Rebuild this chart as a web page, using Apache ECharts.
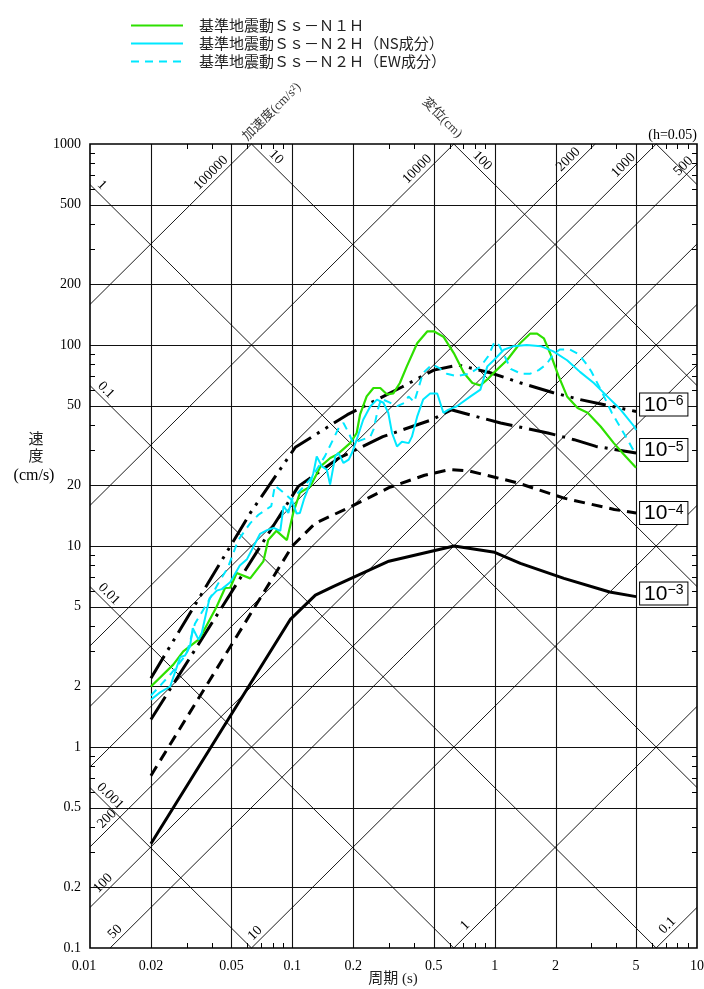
<!DOCTYPE html>
<html>
<head>
<meta charset="utf-8">
<title>基準地震動 擬似速度応答スペクトル</title>
<script src="https://cdn.jsdelivr.net/npm/echarts@6/dist/echarts.min.js"></script>
<style>
  html, body { margin: 0; padding: 0; background: #fff; }
  #chart { width: 704px; height: 989px; }
</style>
</head>
<body>
<div id="chart"></div>
<script>
// axis ticks (period s / velocity cm/s)
const xMajor = [0.01, 0.02, 0.05, 0.1, 0.2, 0.5, 1, 2, 5, 10];
const yMajor = [0.1, 0.2, 0.5, 1, 2, 5, 10, 20, 50, 100, 200, 500, 1000];
const xMinor = [0.03, 0.04, 0.06, 0.07, 0.08, 0.09, 0.3, 0.4, 0.6, 0.7, 0.8, 0.9, 3, 4, 6, 7, 8, 9];
const yMinor = [0.3, 0.4, 0.6, 0.7, 0.8, 0.9, 3, 4, 6, 7, 8, 9, 30, 40, 60, 70, 80, 90, 300, 400, 600, 700, 800, 900];

// tripartite lines: acceleration (cm/s2) and displacement (cm)
const accelLines = [0.1, 1, 10, 50, 100, 200, 500, 1000, 2000, 10000, 100000];
const dispLines = [0.001, 0.01, 0.1, 1, 10, 100, 1000];

// 基準地震動Ｓｓ－Ｎ１Ｈ
const n1hT = [0.02, 0.0258, 0.0289, 0.0344, 0.0357, 0.0423, 0.0465, 0.0493, 0.0531, 0.0619, 0.0719, 0.076, 0.0835, 0.094, 0.101, 0.109, 0.1228, 0.138, 0.154, 0.1665, 0.193, 0.208, 0.216, 0.233, 0.2517, 0.272, 0.294, 0.3156, 0.34, 0.368, 0.414, 0.464, 0.5, 0.558, 0.628, 0.705, 0.776, 0.85, 0.92, 1.0, 1.15, 1.335, 1.5, 1.62, 1.75, 1.88, 2.07, 2.28, 2.57, 2.88, 3.34, 3.88, 4.35, 5.0];
const n1hV = [2.0, 2.57, 2.99, 3.42, 3.63, 5.0, 6.18, 6.2, 7.34, 6.9, 8.38, 10.7, 11.9, 10.7, 14.6, 18.4, 19.8, 24.9, 27.4, 28.5, 32.5, 36.5, 45, 55.5, 61.1, 61.1, 56.7, 57.4, 64.7, 78.3, 102, 116.8, 117, 110, 91.2, 72.6, 64.7, 63, 67.4, 73.5, 84, 102, 114, 114, 108, 91, 70, 55.5, 48.6, 46, 39.3, 32.5, 28.5, 24.5];

// 基準地震動Ｓｓ－Ｎ２Ｈ（NS成分）
const n2hNsT = [0.02, 0.0222, 0.0249, 0.0279, 0.0295, 0.0312, 0.0322, 0.0344, 0.0357, 0.0378, 0.039, 0.0423, 0.0448, 0.0493, 0.055, 0.0597, 0.0645, 0.0693, 0.075, 0.0808, 0.0872, 0.0905, 0.0956, 0.0993, 0.105, 0.109, 0.114, 0.1228, 0.127, 0.132, 0.14, 0.148, 0.1537, 0.163, 0.169, 0.179, 0.19, 0.197, 0.208, 0.224, 0.243, 0.262, 0.282, 0.298, 0.311, 0.329, 0.348, 0.376, 0.39, 0.414, 0.443, 0.48, 0.52, 0.558, 0.589, 0.65, 0.76, 0.85, 0.92, 0.99, 1.11, 1.24, 1.44, 1.69, 1.95, 2.28, 2.64, 3.09, 3.6, 4.2, 4.9, 5.0];
const n2hNsV = [1.72, 1.87, 2.0, 2.8, 2.85, 3.16, 3.9, 3.42, 3.7, 4.8, 5.5, 6.0, 6.1, 6.6, 8.0, 8.6, 10.0, 11.5, 12.0, 12.3, 11.9, 15.8, 14.6, 17.0, 14.5, 14.6, 17.0, 20.6, 23.0, 27.9, 24.9, 24.0, 20.2, 27.9, 29.0, 25.9, 26.9, 29.0, 33.8, 42.5, 49.6, 53.5, 51.6, 46.0, 36.5, 31.3, 33.0, 32.5, 35.0, 44.0, 53.5, 57.4, 57.4, 46.0, 47.6, 49.6, 55.5, 60, 78.3, 84, 94.7, 98.7, 100, 98.7, 93, 84, 73.5, 64.7, 55.5, 47.6, 39.3, 37.8];

// 基準地震動Ｓｓ－Ｎ２Ｈ（EW成分）
const n2hEwT = [0.02, 0.025, 0.03, 0.033, 0.038, 0.043, 0.048, 0.054, 0.062, 0.068, 0.0787, 0.082, 0.09, 0.099, 0.11, 0.125, 0.145, 0.169, 0.179, 0.19, 0.2, 0.243, 0.252, 0.265, 0.275, 0.3, 0.33, 0.36, 0.375, 0.4, 0.443, 0.49, 0.53, 0.58, 0.65, 0.75, 0.85, 0.93, 1.0, 1.05, 1.12, 1.2, 1.35, 1.5, 1.65, 1.8, 1.95, 2.1, 2.35, 2.6, 2.8, 3.0, 3.4, 3.8, 4.45, 4.8, 5.0];
const n2hEwV = [1.8, 2.3, 2.9, 4.1, 5.2, 6.5, 7.8, 10.7, 13, 14.3, 15.8, 20, 18.5, 17, 19, 22, 28, 38.4, 40.9, 36.5, 32.5, 35, 38, 48, 54, 52, 49.6, 51.6, 55.5, 52, 72.6, 80, 77, 72, 70, 72, 78, 88, 104, 100, 88, 76, 72, 72, 75, 80, 90, 95, 95, 90, 82, 74, 58, 45.8, 35, 30.5, 29.5];

// 年超過確率 一様ハザードスペクトル 10^-3 .. 10^-6
const haz3T = [0.02, 0.0975, 0.13, 0.16, 0.3, 0.63, 1.0, 1.34, 2.2, 3.7, 5];
const haz3V = [0.33, 4.3, 5.7, 6.3, 8.4, 10, 9.3, 8.2, 6.9, 5.9, 5.6];
const haz4T = [0.02, 0.1, 0.13, 0.19, 0.3, 0.45, 0.6, 0.75, 1, 1.3, 2.2, 3.9, 5];
const haz4V = [0.72, 10, 13, 15.5, 19.5, 22.5, 24, 23.6, 22, 20.6, 17.3, 15.2, 14.6];
const haz5T = [0.02, 0.107, 0.17, 0.28, 0.49, 0.61, 1.07, 1.83, 2.47, 3.17, 5];
const haz5V = [1.37, 19.8, 27.4, 35, 42.5, 47.6, 40.9, 36.5, 33.8, 31.3, 29];
const haz6T = [0.02, 0.062, 0.1035, 0.187, 0.35, 0.5, 0.66, 0.95, 1.335, 1.95, 2.65, 5];
const haz6V = [2.2, 14.6, 31, 45, 62, 75, 79.5, 72.8, 64.9, 57.9, 53.5, 46.7];

// where the diagonal labels sit (period of the foot point on each line)
const accelLabelAt = { 100000: 0.0423, 10000: 0.4416, 2000: 2.466, 1000: 4.62, 500: 9.14, 200: 0.01294, 100: 0.01237, 50: 0.01418, 10: 0.0698, 1: 0.763, 0.1: 7.62 };
const dispLabelAt = { 1: 0.01074, 0.1: 0.01124, 0.01: 0.01164, 0.001: 0.01178, 10: 0.0779, 100: 0.814 };

const TWO_PI = 2 * Math.PI;
const numFont = '14px "Liberation Serif", serif';
const pairs = (ts, vs) => ts.map((t, i) => [t, vs[i]]);

function renderFrame(params, api) {
  const els = [];
  const pt = (t, v) => api.coord([t, v]);
  const seg = (p, q, w, c) => ({
    type: 'line', silent: true,
    shape: { x1: p[0], y1: p[1], x2: q[0], y2: q[1] },
    style: { stroke: c, lineWidth: w }
  });
  const txt = (x, y, s, opt) => ({
    type: 'text', silent: true, x: x, y: y, rotation: opt.rot || 0,
    style: { text: s, font: opt.font || numFont, fill: '#000', align: opt.align || 'center', verticalAlign: 'middle' }
  });
  const x0 = pt(0.01, 0.1)[0], x1 = pt(10, 0.1)[0];
  const yb = pt(0.01, 0.1)[1], yt = pt(0.01, 1000)[1];

  // grid lines
  xMajor.slice(1, -1).forEach(t => {
    const x = Math.round(pt(t, 1)[0]) + 0.5;
    els.push(seg([x, yt], [x, yb], 1.1, '#111'));
  });
  yMajor.slice(1, -1).forEach(v => {
    const y = Math.round(pt(1, v)[1]) + 0.5;
    els.push(seg([x0, y], [x1, y], 1.1, '#111'));
  });

  // diagonals
  accelLines.forEach(a => {
    const ta = Math.max(0.01, 0.1 * TWO_PI / a), tb = Math.min(10, 1000 * TWO_PI / a);
    if (ta < tb) els.push(seg(pt(ta, a * ta / TWO_PI), pt(tb, a * tb / TWO_PI), 0.9, '#000'));
  });
  dispLines.forEach(d => {
    const ta = Math.max(0.01, TWO_PI * d / 1000), tb = Math.min(10, TWO_PI * d / 0.1);
    if (ta < tb) els.push(seg(pt(ta, TWO_PI * d / ta), pt(tb, TWO_PI * d / tb), 0.9, '#000'));
  });

  // minor ticks on all four sides
  xMinor.forEach(t => {
    const x = Math.round(pt(t, 1)[0]) + 0.5;
    els.push(seg([x, yb], [x, yb - 5], 1, '#000'));
    els.push(seg([x, yt], [x, yt + 5], 1, '#000'));
  });
  yMinor.forEach(v => {
    const y = Math.round(pt(1, v)[1]) + 0.5;
    els.push(seg([x0, y], [x0 + 5, y], 1, '#000'));
    els.push(seg([x1, y], [x1 - 5, y], 1, '#000'));
  });

  // frame
  els.push({ type: 'rect', silent: true, shape: { x: x0, y: yt, width: x1 - x0, height: yb - yt },
    style: { fill: 'none', stroke: '#000', lineWidth: 1.6 } });

  // tick labels
  xMajor.forEach(t => {
    const x = pt(t, 1)[0] + (t === 0.01 ? -6 : 0);
    els.push(txt(x, yb + 18, String(t), {}));
  });
  yMajor.forEach(v => {
    els.push(txt(x0 - 9, pt(1, v)[1], String(v), { align: 'right' }));
  });

  // diagonal labels
  const k = 8 / Math.SQRT2;
  Object.keys(accelLabelAt).forEach(key => {
    const a = Number(key), t = accelLabelAt[key];
    const p = pt(t, a * t / TWO_PI);
    els.push(txt(p[0] - k, p[1] - k, String(a), { rot: Math.PI / 4 }));
  });
  Object.keys(dispLabelAt).forEach(key => {
    const d = Number(key), t = dispLabelAt[key];
    const p = pt(t, TWO_PI * d / t);
    els.push(txt(p[0] + k, p[1] - k, String(d), { rot: -Math.PI / 4 }));
  });

  return { type: 'group', children: els };
}

function hazardLabel(exp, dy) {
  return {
    show: true,
    formatter: '{a|10}{b|−' + exp + '}',
    distance: 4,
    offset: [0, dy],
    backgroundColor: '#fff',
    borderColor: '#000',
    borderWidth: 1,
    padding: [1, 4, 0, 4],
    rich: {
      a: { fontSize: 21, fontFamily: 'Liberation Sans', color: '#000', lineHeight: 21, verticalAlign: 'bottom' },
      b: { fontSize: 14, fontFamily: 'Liberation Sans', color: '#000', lineHeight: 14, verticalAlign: 'top' }
    }
  };
}

function hazardSeries(ts, vs, dash, exp, dy) {
  return {
    type: 'line', data: pairs(ts, vs), symbol: 'none', z: 3,
    lineStyle: { color: '#000', width: 3, type: dash },
    endLabel: hazardLabel(exp, dy)
  };
}

const legendNames = ['基準地震動Ｓｓ－Ｎ１Ｈ', '基準地震動Ｓｓ－Ｎ２Ｈ（NS成分）', '基準地震動Ｓｓ－Ｎ２Ｈ（EW成分）'];
const green = '#2ee000';
const cyan = '#00e8ff';

const chart = echarts.init(document.getElementById('chart'));
chart.setOption({
  animation: false,
  grid: { left: 90, right: 7, top: 144, bottom: 41, outerBoundsMode: 'none' },
  legend: {
    orient: 'vertical', left: 130, top: 18, padding: 0,
    itemWidth: 52, itemHeight: 14, itemGap: 3,
    data: legendNames,
    itemStyle: { opacity: 0 },
    textStyle: { fontSize: 15, fontFamily: '"Noto Sans CJK JP"', color: '#222', padding: [0, 0, 0, 11] }
  },
  xAxis: {
    type: 'log', logBase: 10, min: 0.01, max: 10,
    axisLine: { show: false }, axisTick: { show: false }, axisLabel: { show: false }, splitLine: { show: false }
  },
  yAxis: {
    type: 'log', logBase: 10, min: 0.1, max: 1000,
    axisLine: { show: false }, axisTick: { show: false }, axisLabel: { show: false }, splitLine: { show: false }
  },
  graphic: [
    { type: 'text', x: 393, y: 979, style: { text: '周期 (s)', font: '15px "Liberation Serif", "Noto Sans CJK JP"', fill: '#222', align: 'center', verticalAlign: 'middle' } },
    { type: 'text', x: 36, y: 438, style: { text: '速', font: '15px "Noto Sans CJK JP"', fill: '#222', align: 'center', verticalAlign: 'middle' } },
    { type: 'text', x: 36, y: 455, style: { text: '度', font: '15px "Noto Sans CJK JP"', fill: '#222', align: 'center', verticalAlign: 'middle' } },
    { type: 'text', x: 34, y: 476, style: { text: '(cm/s)', font: '16px "Liberation Serif"', fill: '#000', align: 'center', verticalAlign: 'middle' } },
    { type: 'text', x: 697, y: 135, style: { text: '(h=0.05)', font: '14px "Liberation Serif"', fill: '#000', align: 'right', verticalAlign: 'middle' } },
    { type: 'text', x: 272, y: 112, rotation: Math.PI / 4, style: { text: '加速度(cm/s²)', font: '13px "Liberation Serif", "Noto Sans CJK JP"', fill: '#333', align: 'center', verticalAlign: 'middle' } },
    { type: 'text', x: 442, y: 118, rotation: -Math.PI / 4, style: { text: '変位(cm)', font: '13px "Liberation Serif", "Noto Sans CJK JP"', fill: '#333', align: 'center', verticalAlign: 'middle' } }
  ],
  series: [
    { type: 'custom', coordinateSystem: 'cartesian2d', renderItem: renderFrame, data: [[1, 1]], z: 1, silent: true, clip: false },
    hazardSeries(haz3T, haz3V, 'solid', 3, -3),
    hazardSeries(haz4T, haz4V, [11, 7], 4, 0),
    hazardSeries(haz5T, haz5V, [27, 7, 3, 7], 5, -3),
    hazardSeries(haz6T, haz6V, [26, 7, 3, 7, 3, 7], 6, -7),
    { name: legendNames[0], type: 'line', data: pairs(n1hT, n1hV), symbol: 'none', z: 4,
      itemStyle: { color: green }, lineStyle: { color: green, width: 2.2 } },
    { name: legendNames[1], type: 'line', data: pairs(n2hNsT, n2hNsV), symbol: 'none', z: 4,
      itemStyle: { color: cyan }, lineStyle: { color: cyan, width: 2 } },
    { name: legendNames[2], type: 'line', data: pairs(n2hEwT, n2hEwV), symbol: 'none', z: 4,
      itemStyle: { color: cyan }, lineStyle: { color: cyan, width: 2, type: [8, 6] } }
  ]
});
</script>
</body>
</html>
